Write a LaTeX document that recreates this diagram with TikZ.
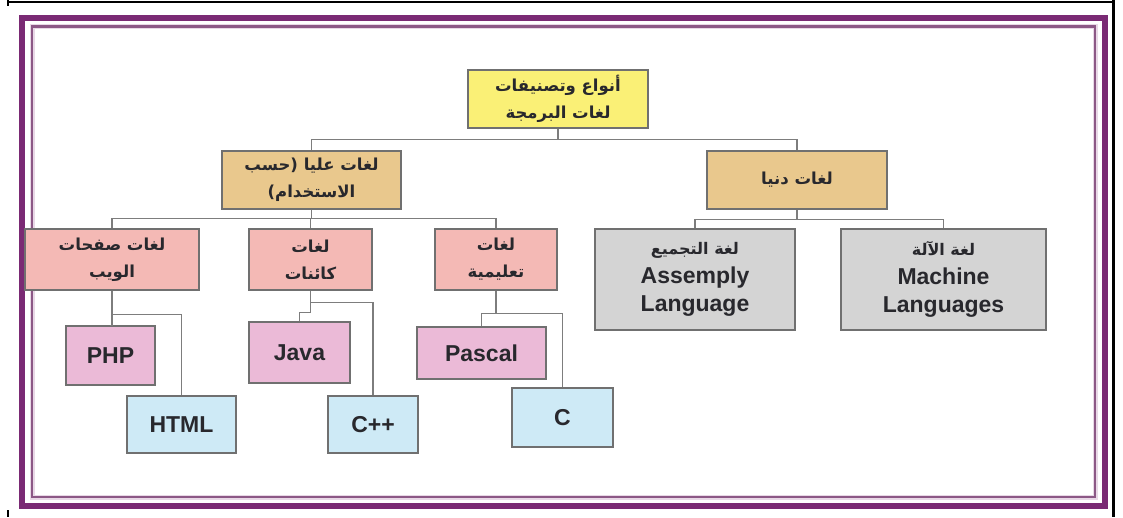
\documentclass[tikz,border=0pt]{standalone}
\usepackage{fontspec}
\setmainfont{Liberation Sans}
\newfontfamily\arabicfont[Script=Arabic]{DejaVu Sans}
\TeXXeTstate=1
\usepackage{tikz}
\newcommand{\arline}[1]{\beginR #1\endR}
\definecolor{rootyellow}{RGB}{250,240,118}
\definecolor{tan}{RGB}{233,200,141}
\definecolor{salmon}{RGB}{244,185,181}
\definecolor{lavpink}{RGB}{235,186,215}
\definecolor{skyblue}{RGB}{206,234,246}
\definecolor{lowgray}{RGB}{212,212,212}
\definecolor{boxgray}{RGB}{112,112,112}
\definecolor{linegray}{RGB}{125,125,125}
\definecolor{framepurple}{RGB}{122,42,116}
\definecolor{innerpurple}{RGB}{140,88,134}
\definecolor{halo}{RGB}{232,216,230}
\definecolor{inkgray}{RGB}{40,40,45}

\begin{document}
\begin{tikzpicture}[x=1pt,y=-1pt,
	box/.style={shape=rectangle, draw=boxgray, line width=1.3pt, inner sep=0pt, align=center, text=inkgray},
	arab/.style={font=\arabicfont\bfseries\fontsize{16.5}{27}\selectfont},
	latin/.style={font=\bfseries\fontsize{23}{28}\selectfont},
	conn/.style={draw=linegray, line width=1.1pt}]
	\useasboundingbox (0,0) rectangle (1123,517);
	% page edges
	\draw[black, line width=2pt] (8,1.5) -- (1113,1.5);
	\draw[black, line width=3pt] (1113.5,0) -- (1113.5,517);
	\draw[black, line width=2pt] (8,0) -- (8,6);
	\draw[black, line width=2pt] (8,510) -- (8,517);
	% frame
	\draw[framepurple, line width=6pt] (22,18) rectangle (1104.5,506);
	\draw[halo, line width=5pt] (32,26.5) rectangle (1095,497);
	\draw[innerpurple, line width=2.2pt] (32,26.5) rectangle (1095,497);

	\node[box, fill=rootyellow, minimum width=180, minimum height=58, arab] (root) at (558,99) {\arline{أنواع وتصنيفات}\\\arline{لغات البرمجة}};
	\node[box, fill=tan, minimum width=179, minimum height=58, arab] (high) at (311.5,180) {\arline{لغات عليا (حسب}\\\arline{الاستخدام)}};
	\node[box, fill=tan, minimum width=180, minimum height=58, arab] (low) at (797,180) {\arline{لغات دنيا}};

	\node[box, fill=salmon, minimum width=174, minimum height=61, arab] (web) at (112,259.5) {\arline{لغات صفحات}\\\arline{الويب}};
	\node[box, fill=salmon, minimum width=123, minimum height=61, arab] (obj) at (310.5,259.5) {\arline{لغات}\\\arline{كائنات}};
	\node[box, fill=salmon, minimum width=122, minimum height=61, arab] (edu) at (496,259.5) {\arline{لغات}\\\arline{تعليمية}};

	\node[box, fill=lowgray, minimum width=200, minimum height=101, latin] (asm) at (695,279.5) {{\arabicfont\fontsize{16}{24}\selectfont\arline{لغة التجميع}}\\[1pt]Assemply\\Language};
	\node[box, fill=lowgray, minimum width=205, minimum height=101, latin] (mach) at (943.5,279.5) {{\arabicfont\fontsize{16}{24}\selectfont\arline{لغة الآلة}}\\[1pt]Machine\\Languages};

	\node[box, fill=lavpink, minimum width=89, minimum height=59, latin] (php) at (110.5,355.5) {PHP};
	\node[box, fill=skyblue, minimum width=109, minimum height=57, latin] (html) at (181.5,424.5) {HTML};
	\node[box, fill=lavpink, minimum width=101, minimum height=61, latin] (java) at (299.5,352.5) {Java};
	\node[box, fill=skyblue, minimum width=90, minimum height=57, latin] (cpp) at (373,424.5) {C++};
	\node[box, fill=lavpink, minimum width=129, minimum height=52, latin] (pascal) at (481.5,353) {Pascal};
	\node[box, fill=skyblue, minimum width=101, minimum height=59, latin] (c) at (562.5,417.5) {C};

	\draw[conn] (root.south) -- ++(0,11) -| (high.north);
	\draw[conn] (root.south) -- ++(0,11) -| (low.north);
	\draw[conn] (high.south) -- ++(0,9) -| (web.north);
	\draw[conn] (high.south) -- ++(0,9) -| (obj.north);
	\draw[conn] (high.south) -- ++(0,9) -| (edu.north);
	\draw[conn] (low.south) -- ++(0,10) -| (asm.north);
	\draw[conn] (low.south) -- ++(0,10) -| (mach.north);
	\draw[conn] (web.south) -- ++(0,35) -| (php.north);
	\draw[conn] (web.south) -- ++(0,24) -| (html.north);
	\draw[conn] (obj.south) -- ++(0,22) -| (java.north);
	\draw[conn] (obj.south) -- ++(0,12) -| (cpp.north);
	\draw[conn] (edu.south) -- ++(0,23) -| (pascal.north);
	\draw[conn] (edu.south) -- ++(0,23) -| (c.north);
\end{tikzpicture}
\end{document}
